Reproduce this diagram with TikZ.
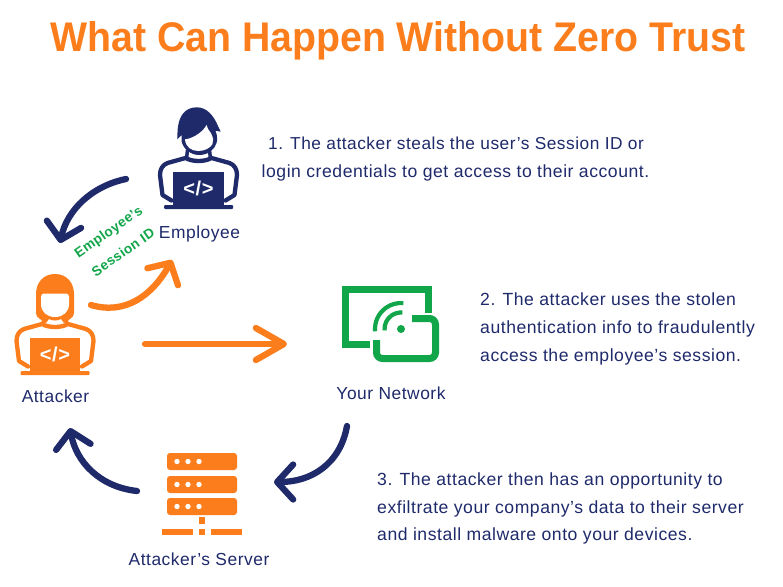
\documentclass[tikz,border=0pt]{standalone}
\usepackage{fontspec}
\usepackage{graphicx}
\setmainfont{Liberation Sans}[LetterSpace=3]
\newfontfamily\titlefont{Liberation Sans}
\usetikzlibrary{arrows.meta}
\definecolor{navy}{HTML}{1F2A6B}
\definecolor{orng}{HTML}{FB7D1C}
\definecolor{grn}{HTML}{12A64A}
\tikzset{
  x=1pt,y=-1pt,
  body/.style={font=\fontsize{17.6}{17.6}\selectfont,text=navy,inner sep=0pt,anchor=base},
  lab/.style={font=\fontsize{17.4}{17.4}\selectfont,text=navy,inner sep=0pt,anchor=base},
  tag/.style={font=\bfseries\fontsize{13.7}{13.7}\selectfont,text=grn,inner sep=0pt,rotate=35},
  curve/.style={line width=6.3pt,line cap=round,line join=round},
  navyarrow/.style={curve,draw=navy,-{Straight Barb[length=16pt,width=35pt,round]}},
  orngarrow/.style={curve,draw=orng,-{Straight Barb[length=16pt,width=35pt,round]}},
  pics/worker/.style={code={
    \draw[#1,line width=4.3pt,line cap=round,line join=round,fill=white]
      (-27,12.5) -- (-36,7) -- (-38.5,-13) .. controls (-38.5,-19) and (-36,-23) .. (-31,-25)
      -- (-13,-30) .. controls (-6,-26) and (6,-26) .. (13,-30)
      -- (31,-25) .. controls (36,-23) and (38.5,-19) .. (38.5,-13) -- (36,7) -- (27,12.5);
    \draw[#1,line width=3.5pt] (-11,-38) -- (-12,-29) (11,-38) -- (12,-29);
    \fill[#1] (-25.3,-16) rectangle (25.3,17);
    \fill[#1,rounded corners=1pt] (-34.5,17) rectangle (34.5,21);
    \node[text=white,font=\bfseries\fontsize{20}{20}\selectfont,inner sep=0pt] at (0,0) {</>};
  }},
}
\begin{document}
\begin{tikzpicture}
\useasboundingbox (0,0) rectangle (783,586);
\fill[white] (0,0) rectangle (783,586);

% title
\node[text=orng,inner sep=0pt,anchor=base west] (title) at (50,52)
  {\resizebox{695pt}{30pt}{\titlefont\bfseries What Can Happen Without Zero Trust}};

% employee
\pic at (198.5,188) {worker=navy};
\begin{scope}[shift={(198.5,188)}]
\fill[navy] (-21.2,-48.7) .. controls (-21,-56) and (-21,-60) .. (-20.2,-63)
  .. controls (-19,-71) and (-14,-80.7) .. (-1.8,-80.7)
  .. controls (8,-80.7) and (15,-73) .. (19.8,-61.3)
  -- (22.2,-56.3) -- (17,-57.3)
  .. controls (19,-52) and (19,-48) .. (18,-45)
  .. controls (16,-38) and (9,-33) .. (0.8,-33)
  .. controls (-8,-33) and (-15,-39) .. (-16.8,-46.3)
  -- (-17,-53) -- cycle;
\fill[white] (-13.5,-48.7) .. controls (-8,-49) and (3,-54) .. (8.2,-63)
  .. controls (9,-59) and (11,-57) .. (12.5,-54.7)
  .. controls (15,-50) and (15,-47) .. (14,-44)
  .. controls (12,-40) and (6,-37) .. (-0.2,-37)
  .. controls (-7,-37) and (-13,-41) .. (-13.5,-48.7) -- cycle;
\end{scope}

% attacker
\pic at (55,354) {worker=orng};
\begin{scope}[shift={(55,354)}]
\fill[orng] (0,-80) .. controls (-12,-80) and (-19,-71) .. (-19,-60)
  -- (-19,-42) .. controls (-19,-38) and (-17,-36) .. (-15,-35)
  -- (-9,-31) -- (-6,-35) .. controls (-3,-33) and (3,-33) .. (6,-35)
  -- (9,-31) -- (15,-35) .. controls (17,-36) and (19,-38) .. (19,-42)
  -- (19,-60) .. controls (19,-71) and (12,-80) .. (0,-80) -- cycle;
\fill[white] (-11,-60.5) -- (11,-60.5) .. controls (13,-60.5) and (14,-59) .. (14,-57)
  -- (14,-50) .. controls (14,-42) and (8,-37) .. (0,-37)
  .. controls (-8,-37) and (-14,-42) .. (-14,-50)
  -- (-14,-57) .. controls (-14,-59) and (-13,-60.5) .. (-11,-60.5) -- cycle;
\end{scope}

% network icon
\draw[grn,line width=7pt] (370,344.5) -- (345.5,344.5) -- (345.5,289.5) -- (428.5,289.5) -- (428.5,313);
\draw[grn,line width=7pt,rounded corners=6pt] (412,318.5) -- (435.5,318.5) -- (435.5,358.5) -- (376.5,358.5) -- (376.5,340);
\fill[grn] (401,329) circle (4);
\draw[grn,line width=4.2pt] (401,329) ++(-185:16.5) arc[start angle=-185,end angle=-85,radius=16.5];
\draw[grn,line width=4.2pt] (401,329) ++(-185:26) arc[start angle=-185,end angle=-85,radius=26];

% server
\foreach \y in {453,476,498}{
  \fill[orng,rounded corners=3pt] (167,\y) rectangle (237,\y+17);
  \foreach \x in {177,188,199}{\fill[white] (\x,\y+8.5) circle (2.7);}
}
\fill[orng] (199,517) rectangle (205,524);
\fill[orng] (162,529) rectangle (193,535);
\fill[orng] (199,529) rectangle (205,535);
\fill[orng] (211,529) rectangle (242,535);

% labels
\node[lab] (employee) at (199.5,238) {Employee};
\node[lab] (attacker) at (55.5,402) {Attacker};
\node[lab] (network) at (391,399) {Your Network};
\node[lab] (server) at (199,565) {Attacker’s Server};
\node[tag] (tagA) at (109,232.7) {Employee’s};
\node[tag] (tagB) at (123,252) {Session ID};

% body text
\node[body,font=\fontsize{17.3}{17.3}\selectfont] (s1a) at (456,149) {1. The attacker steals the user’s Session ID or};
\node[body] (s1b) at (455.5,177) {login credentials to get access to their account.};
\node[body,anchor=base west] (s2a) at (480,305) {2. The attacker uses the stolen};
\node[body,anchor=base west] (s2b) at (480,333) {authentication info to fraudulently};
\node[body,anchor=base west] (s2c) at (480,361) {access the employee’s session.};
\node[body,anchor=base west] (s3a) at (377,485) {3. The attacker then has an opportunity to};
\node[body,anchor=base west] (s3b) at (377,513) {exfiltrate your company’s data to their server};
\node[body,anchor=base west] (s3c) at (377,540) {and install malware onto your devices.};

% connectors
\coordinate (a1) at (126,179); \coordinate (a1e) at (60,243);
\coordinate (b1) at (91,305);  \coordinate (b1e) at (172,260);
\coordinate (c1) at (145,344); \coordinate (c1e) at (287,344);
\coordinate (d1) at (347,426); \coordinate (d1e) at (274,482);
\coordinate (e1) at (137,491); \coordinate (e1e) at (70,428);
\draw[navyarrow] (a1) .. controls (92,186) and (67,210) .. (a1e);
\draw[orngarrow] (b1) .. controls (125,315) and (152,296) .. (b1e);
\draw[orngarrow,-{Straight Barb[length=28pt,width=32pt,round]}] (c1) -- (c1e);
\draw[navyarrow] (d1) .. controls (340,465) and (310,482) .. (d1e);
\draw[navyarrow] (e1) .. controls (100,487) and (76,462) .. (e1e);
\end{tikzpicture}
\end{document}
